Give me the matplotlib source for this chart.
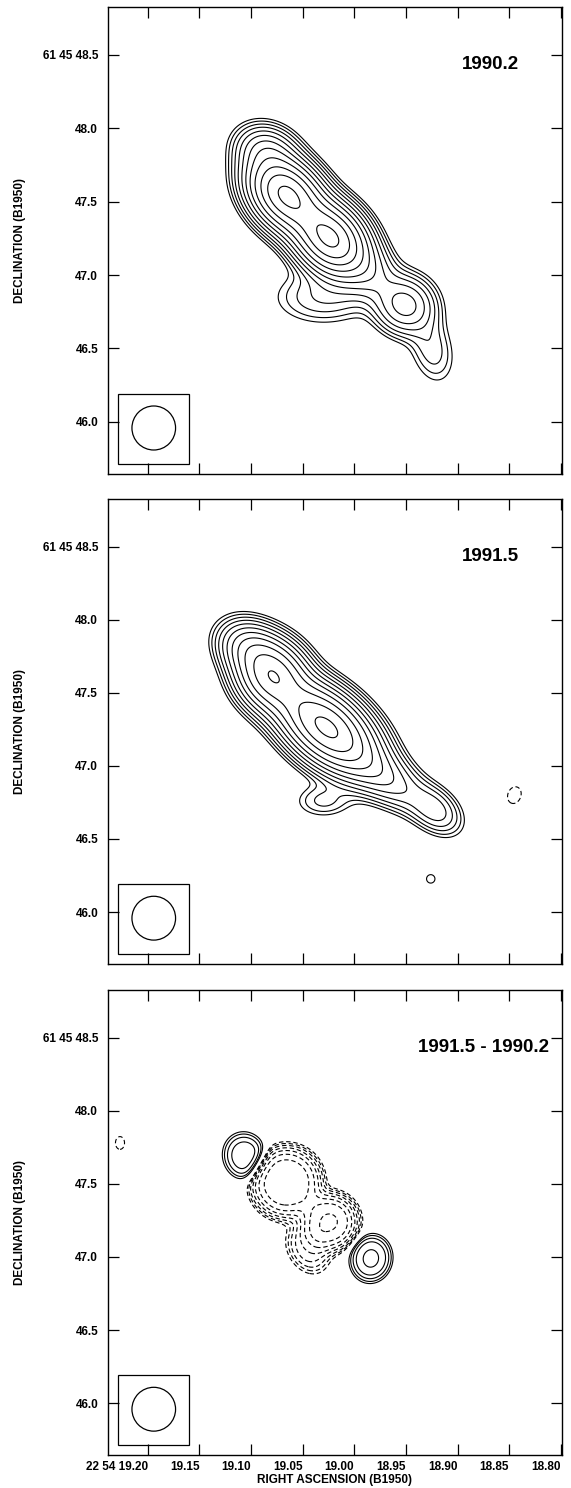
import numpy as np
import matplotlib
matplotlib.use("Agg")
import matplotlib.pyplot as plt
from matplotlib.patches import Rectangle, Ellipse

# -----------------------------
# Axis ticks and labels
# -----------------------------

RA_TICKS = [19.20, 19.15, 19.10, 19.05, 19.00, 18.95, 18.90, 18.85, 18.80]
RA_TICK_LABELS = ["22 54 19.20", "19.15", "19.10", "19.05", "19.00",
                  "18.95", "18.90", "18.85", "18.80"]
DEC_TICKS = [46.0, 46.5, 47.0, 47.5, 48.0, 48.5]
DEC_TICK_LABELS = ["46.0", "46.5", "47.0", "47.5", "48.0", "61 45 48.5"]
EPOCH_LABELS = ["1990.2", "1991.5", "1991.5 - 1990.2"]

RA_LIMITS = (19.2387, 18.799)
DEC_LIMITS = (45.645, 48.827)

# arcsec per second of RA at dec ~ +61 45
ARCSEC_PER_SEC = 7.10
BEAM_FWHM = 0.30

# -----------------------------
# Source components
# (RA s, Dec arcsec, peak, sigma major ", sigma minor ", angle deg,
#  profile exponent: 1 = gaussian, >1 = flatter top / steeper edge)
# -----------------------------

# 1990.2: A, B, NW extension, bridge, C, tail, southern shelf
MAP1_RA = [19.0655, 19.0235, 19.085, 18.985, 18.951, 18.925, 19.030]
MAP1_DEC = [47.546, 47.251, 47.85, 47.02, 46.797, 46.50, 46.85]
MAP1_PEAK = [1.0, 1.0, 0.13, 0.08, 0.16, 0.035, 0.04]
MAP1_SMAJ = [0.16, 0.16, 0.12, 0.13, 0.12, 0.15, 0.20]
MAP1_SMIN = [0.115, 0.115, 0.095, 0.10, 0.11, 0.09, 0.11]
MAP1_ANG = [-45, -45, -20, -45, -30, -75, 0]
MAP1_SHAPE = [1.0, 1.0, 1.0, 1.0, 1.0, 1.0, 1.0]

# 1991.5: A, B, NW fill, SE body, SE end, foot, small + and - spots
MAP2_RA = [19.0796, 19.0274, 19.100, 18.975, 18.922, 19.030, 18.926, 18.845]
MAP2_DEC = [47.619, 47.267, 47.80, 46.95, 46.70, 46.76, 46.227, 46.80]
MAP2_PEAK = [0.57, 1.0, 0.18, 0.12, 0.07, 0.03, 0.018, -0.018]
MAP2_SMAJ = [0.14, 0.22, 0.13, 0.22, 0.12, 0.12, 0.032, 0.065]
MAP2_SMIN = [0.12, 0.12, 0.10, 0.09, 0.08, 0.07, 0.032, 0.05]
MAP2_ANG = [-45, -40, -30, -35, -40, 0, 0, 70]
MAP2_SHAPE = [1.0, 1.0, 1.0, 1.0, 1.0, 1.0, 1.0, 1.0]

# difference: two positive spots, two negative holes, SW extension, spot
MAP3_RA = [19.106, 18.984, 19.066, 19.024, 19.045, 19.227]
MAP3_DEC = [47.69, 46.99, 47.51, 47.24, 47.06, 47.78]
MAP3_PEAK = [0.072, 0.085, -0.15, -0.165, -0.05, -0.017]
MAP3_SMAJ = [0.11, 0.108, 0.155, 0.12, 0.12, 0.07]
MAP3_SMIN = [0.10, 0.095, 0.155, 0.12, 0.09, 0.05]
MAP3_ANG = [-70, 80, -45, -45, -60, 90]
MAP3_SHAPE = [1.5, 1.5, 1.8, 1.5, 1.3, 1.0]

# contour levels
LEVELS_MAPS = [-0.012, 0.012, 0.018, 0.027, 0.04, 0.06, 0.09, 0.135,
               0.2, 0.3, 0.45, 0.65, 0.93]
LEVELS_DIFF = [-0.226, -0.16, -0.113, -0.08, -0.056, -0.04, -0.028, -0.02,
               -0.014, 0.02, 0.028, 0.04, 0.056, 0.08]


def make_map(ra_grid, dec_grid, ra0, dec0, peak, smaj, smin, ang, shape):
    field = np.zeros_like(ra_grid)
    for r, d, p, a, b, t, s in zip(ra0, dec0, peak, smaj, smin, ang, shape):
        u = (r - ra_grid) * ARCSEC_PER_SEC
        v = dec_grid - d
        th = np.radians(t)
        up = u * np.cos(th) + v * np.sin(th)
        vp = -u * np.sin(th) + v * np.cos(th)
        q = 0.5 * (up ** 2 / a ** 2 + vp ** 2 / b ** 2)
        field += p * np.exp(-q ** s)
    return field


ra = np.linspace(RA_LIMITS[0], RA_LIMITS[1], 700)
dec = np.linspace(DEC_LIMITS[0], DEC_LIMITS[1], 700)
RA, DEC = np.meshgrid(ra, dec)

maps = [
    make_map(RA, DEC, MAP1_RA, MAP1_DEC, MAP1_PEAK, MAP1_SMAJ, MAP1_SMIN,
             MAP1_ANG, MAP1_SHAPE),
    make_map(RA, DEC, MAP2_RA, MAP2_DEC, MAP2_PEAK, MAP2_SMAJ, MAP2_SMIN,
             MAP2_ANG, MAP2_SHAPE),
    make_map(RA, DEC, MAP3_RA, MAP3_DEC, MAP3_PEAK, MAP3_SMAJ, MAP3_SMIN,
             MAP3_ANG, MAP3_SHAPE),
]
levels = [LEVELS_MAPS, LEVELS_MAPS, LEVELS_DIFF]

# -----------------------------
# Figure
# -----------------------------

plt.rcParams["font.family"] = ["Liberation Sans", "DejaVu Sans"]
plt.rcParams["font.weight"] = "bold"

fig = plt.figure(figsize=(5.71, 14.88), dpi=100)

panel_rects = [
    [0.189, 0.6815, 0.795, 0.3138],
    [0.189, 0.3522, 0.795, 0.3125],
    [0.189, 0.0222, 0.795, 0.3125],
]

for i, rect in enumerate(panel_rects):
    ax = fig.add_axes(rect)
    z = maps[i]
    lev = levels[i]
    neg = [l for l in lev if l < 0]
    pos = [l for l in lev if l > 0]
    if neg:
        ax.contour(RA, DEC, z, levels=neg, colors="black",
                   linewidths=0.8, linestyles=[(0, (4, 2.5))])
    ax.contour(RA, DEC, z, levels=pos, colors="black",
               linewidths=0.8, linestyles="solid")

    ax.set_xlim(*RA_LIMITS)
    ax.set_ylim(*DEC_LIMITS)

    ax.set_xticks(RA_TICKS)
    ax.set_yticks(DEC_TICKS)
    ax.set_yticklabels(DEC_TICK_LABELS, fontsize=8.5, fontweight="bold")
    ax.tick_params(direction="in", length=8, width=0.9,
                   top=True, right=True, pad=7)
    if i == 2:
        ax.set_xticklabels(RA_TICK_LABELS, fontsize=8.5, fontweight="bold",
                           ha="right")
        ax.tick_params(axis="x", pad=4)
        ax.set_xlabel("RIGHT ASCENSION (B1950)", fontsize=8.5,
                      fontweight="bold", labelpad=1)
    else:
        ax.set_xticklabels([])

    ax.set_ylabel("DECLINATION (B1950)", fontsize=8.5, fontweight="bold",
                  labelpad=12)

    for s in ax.spines.values():
        s.set_linewidth(1.0)

    ax.text(0.905 if i < 2 else 0.972, 0.877, EPOCH_LABELS[i],
            transform=ax.transAxes, ha="right", va="center",
            fontsize=13.5, fontweight="bold")

    # beam box
    ax.add_patch(Rectangle((0.022, 0.021), 0.156, 0.150,
                           transform=ax.transAxes, fill=False,
                           linewidth=0.9, edgecolor="black"))
    ax.add_patch(Ellipse((19.1943, 45.958), BEAM_FWHM / ARCSEC_PER_SEC,
                         BEAM_FWHM, fill=False, linewidth=0.9,
                         edgecolor="black"))

fig.savefig("out.png", dpi=100)
